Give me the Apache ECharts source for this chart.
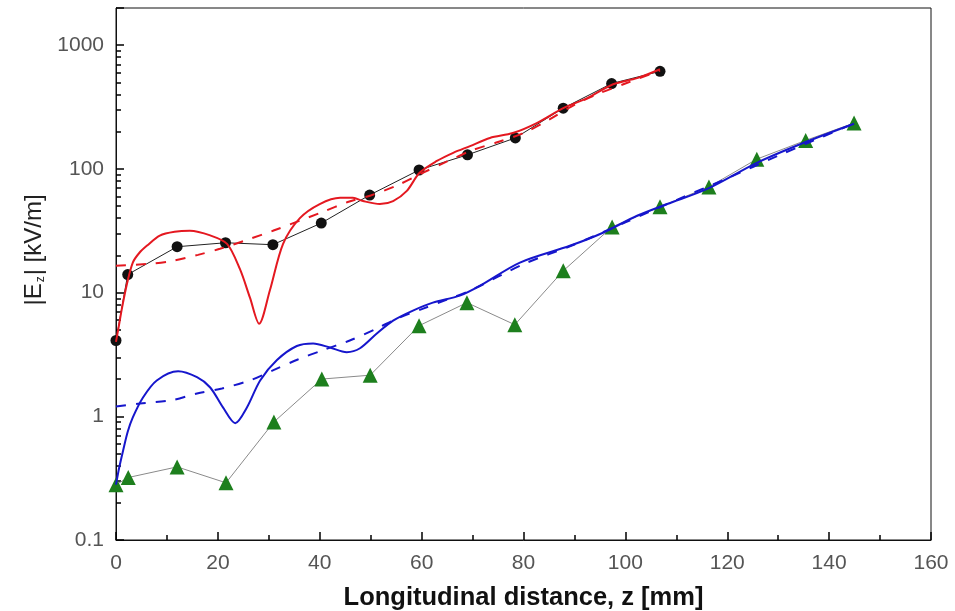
<!DOCTYPE html>
<html>
<head>
<meta charset="utf-8">
<script src="https://cdn.jsdelivr.net/npm/echarts@6/dist/echarts.min.js"></script>
<style>html,body{margin:0;padding:0;background:#fff;}#c{width:955px;height:611px;}</style>
</head>
<body>
<div id="c"></div>
<script>
// ---- data (z in mm, |Ez| in kV/m) ----
const xTicks = [0, 20, 40, 60, 80, 100, 120, 140, 160];
const yTickLabels = [0.1, 1, 10, 100, 1000];

const redMeasured = [[0,4.1],[2.3,14],[12,23.5],[21.5,25.3],[30.8,24.4],[40.3,36.5],[49.8,61.5],[59.5,98],[69,130],[78.4,178],[87.8,310],[97.3,490],[106.8,615]];
const greenMeasured = [[0,0.28],[2.4,0.32],[12,0.39],[21.6,0.29],[31,0.9],[40.4,2.0],[49.9,2.15],[59.5,5.4],[68.9,8.3],[78.3,5.5],[87.8,15],[97.4,34],[106.8,49.5],[116.4,71.5],[125.8,120],[135.4,170],[144.9,235]];
const redSolid = [[0,4.0],[0.6,5.5],[1.2,7.6],[2.2,12],[3.3,17.5],[4.6,21],[6.1,24],[8.6,28.9],[11.5,31],[14.5,31.6],[18.5,29],[21.8,24.8],[24.3,15.6],[26.3,9.1],[28.1,5.6],[30.2,10.4],[32.8,24.8],[36.1,40],[40,52],[44,58.4],[46.5,58.4],[48.5,55],[51.8,52],[54.4,55],[57.1,66.5],[59.6,93],[63,116],[66.2,135],[69.5,153],[73.4,178],[77.9,195],[82.6,235],[87.8,310],[92.5,374],[97.6,484],[102.3,542],[106.8,640]];
const redDashed = [[0,16.5],[6.7,17.1],[11.2,18.1],[16.1,20.2],[20.4,22.6],[26.3,27.2],[30.8,31.6],[40.6,45],[45.5,54],[50,61],[55,73],[60,92],[65,115],[70,142],[75,165],[80,195],[85,250],[90,330],[95,410],[100,490],[106.8,625]];
const blueSolid = [[0,0.28],[0.6,0.38],[1.4,0.53],[2.3,0.75],[3.3,0.98],[5.3,1.42],[8,1.95],[12.2,2.31],[15.9,2.07],[18.5,1.71],[21,1.18],[23.4,0.88],[25.7,1.18],[28.3,1.95],[31.6,2.85],[35.5,3.7],[38.7,3.88],[42,3.6],[45.3,3.3],[47.9,3.55],[51.2,4.67],[54.4,5.94],[58.3,7.16],[62.2,8.3],[67.5,9.46],[71.5,11.4],[79.3,17.5],[89.1,23.9],[95.6,30.5],[102.3,41.8],[108.2,52],[116.4,70],[125.8,112],[135.4,165],[144.9,232]];
const blueDashed = [[0,1.2],[4.7,1.27],[11,1.35],[15.9,1.53],[20.8,1.68],[26.3,1.95],[30.8,2.35],[35.7,2.88],[40.4,3.4],[45.9,4.1],[51.2,5.13],[55.2,6.17],[60.3,7.43],[65,8.8],[70,10.6],[80,17],[90,24.5],[100,37],[110,56],[120,84],[130,128],[144.9,233]];

const chart = echarts.init(document.getElementById('c'));
const labelFont = {fontFamily: 'Liberation Sans', fontSize: 21, color: '#555'};

chart.setOption({
  animation: false,
  grid: {left: 116, right: 24, top: 8, bottom: 71, show: true, borderColor: '#111', borderWidth: 1, outerBoundsMode: 'none'},
  xAxis: {
    type: 'value', min: xTicks[0], max: xTicks[xTicks.length - 1], interval: 20,
    name: 'Longitudinal distance, z [mm]', nameLocation: 'middle', nameGap: 45,
    nameTextStyle: {fontFamily: 'Liberation Sans', fontSize: 25.5, fontWeight: 'bold', color: '#111'},
    axisLine: {show: true, lineStyle: {color: '#111', width: 1}},
    axisTick: {show: true, inside: true, length: 8, lineStyle: {color: '#000', width: 1.5}},
    minorTick: {show: true, splitNumber: 2, length: 5, lineStyle: {color: '#000', width: 1.5}},
    splitLine: {show: false},
    axisLabel: Object.assign({margin: 13}, labelFont)
  },
  yAxis: {
    type: 'log', logBase: 10, min: 0.1, max: 2000,
    name: '|E{sub|z}| [kV/m]', nameLocation: 'middle', nameGap: 68, nameRotate: 90,
    nameTextStyle: {fontFamily: 'Liberation Sans', fontSize: 24, color: '#222', padding: [0, 0, 0, 48],
      rich: {sub: {fontFamily: 'Liberation Sans', fontSize: 12, color: '#222', padding: [12, 1, 0, 1]}}},
    axisLine: {show: true, lineStyle: {color: '#111', width: 1}},
    axisTick: {show: true, inside: true, length: 8, lineStyle: {color: '#000', width: 1.5}},
    minorTick: {show: true, splitNumber: 9, length: 5, lineStyle: {color: '#000', width: 1.5}},
    splitLine: {show: false},
    axisLabel: Object.assign({
      margin: 12, showMaxLabel: false,
      formatter: v => {
        const r = yTickLabels.find(t => Math.abs(t - v) / t < 1e-6);
        return r === undefined ? '' : String(r);
      }
    }, labelFont)
  },
  series: [
    {type: 'line', data: greenMeasured, symbol: 'triangle', symbolSize: 15, z: 2,
      itemStyle: {color: '#1d7f1d'}, lineStyle: {color: '#8a8a8a', width: 1}},
    {type: 'line', data: redMeasured, symbol: 'circle', symbolSize: 11, z: 2,
      itemStyle: {color: '#111'}, lineStyle: {color: '#222', width: 1}},
    {type: 'line', data: redDashed, symbol: 'none', smooth: 0.3, z: 3,
      lineStyle: {color: '#e41820', width: 2, type: [10, 10]}},
    {type: 'line', data: blueDashed, symbol: 'none', smooth: 0.3, z: 3,
      lineStyle: {color: '#1616cc', width: 2, type: [10, 10]}},
    {type: 'line', data: redSolid, symbol: 'none', smooth: 0.3, z: 4,
      lineStyle: {color: '#e41820', width: 2}},
    {type: 'line', data: blueSolid, symbol: 'none', smooth: 0.3, z: 4,
      lineStyle: {color: '#1616cc', width: 2}}
  ]
});
</script>
</body>
</html>
